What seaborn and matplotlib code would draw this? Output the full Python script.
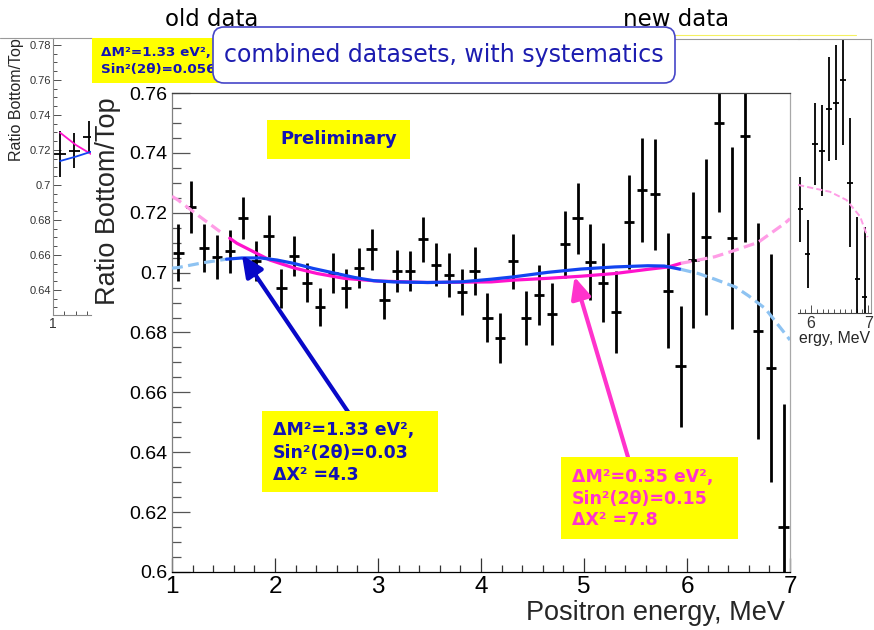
import matplotlib
matplotlib.use("Agg")
import numpy as np
import pandas as pd
import matplotlib.pyplot as plt
import seaborn as sns
from matplotlib.patches import Rectangle, FancyBboxPatch
from matplotlib.lines import Line2D
from matplotlib.transforms import Bbox, IdentityTransform
from matplotlib.ticker import FixedLocator, MultipleLocator

# ---------------- data ----------------
energy = [1.0625, 1.1875, 1.3125, 1.4375, 1.5625, 1.6875, 1.8125, 1.9375,
          2.0625, 2.1875, 2.3125, 2.4375, 2.5625, 2.6875, 2.8125, 2.9375,
          3.0625, 3.1875, 3.3125, 3.4375, 3.5625, 3.6875, 3.8125, 3.9375,
          4.0625, 4.1875, 4.3125, 4.4375, 4.5625, 4.6875, 4.8125, 4.9375,
          5.0625, 5.1875, 5.3125, 5.4375, 5.5625, 5.6875, 5.8125, 5.9375,
          6.0625, 6.1875, 6.3125, 6.4375, 6.5625, 6.6875, 6.8125, 6.9375]
ratio = [0.7066, 0.7219, 0.7083, 0.7053, 0.7072, 0.7183, 0.7038, 0.7122,
         0.6948, 0.7056, 0.6967, 0.6886, 0.6999, 0.6947, 0.7014, 0.7078,
         0.6908, 0.7006, 0.7006, 0.7112, 0.7027, 0.6992, 0.6936, 0.7006,
         0.6849, 0.6782, 0.7038, 0.6849, 0.6925, 0.6863, 0.7094, 0.7181,
         0.7034, 0.6966, 0.6867, 0.7170, 0.7276, 0.7261, 0.6939, 0.6688,
         0.7042, 0.7120, 0.7499, 0.7116, 0.7458, 0.6805, 0.6682, 0.6150]
ratio_err = [0.0095, 0.0088, 0.0080, 0.0074, 0.0072, 0.0071, 0.0067, 0.0069,
             0.0065, 0.0067, 0.0064, 0.0064, 0.0066, 0.0066, 0.0067, 0.0069,
             0.0063, 0.0070, 0.0066, 0.0075, 0.0073, 0.0075, 0.0077, 0.0080,
             0.0082, 0.0084, 0.0092, 0.0090, 0.0099, 0.0104, 0.0113, 0.0120,
             0.0127, 0.0132, 0.0137, 0.0157, 0.0174, 0.0185, 0.0192, 0.0202,
             0.0228, 0.0260, 0.0298, 0.0305, 0.0357, 0.0360, 0.0380, 0.0410]
bin_half = 0.05

# fit 1: dM2 = 1.33 eV2, sin2 = 0.03 (blue)
fit1_x = [1.00, 1.06, 1.30, 1.53, 1.68, 1.86, 2.02, 2.18, 2.37, 2.57, 2.77, 2.96,
          3.15, 3.48, 3.80, 4.10, 4.32, 4.65, 4.97, 5.30, 5.62, 5.78, 5.94,
          6.11, 6.27, 6.47, 6.60, 6.76, 6.95, 7.00]
fit1_y = [0.7015, 0.7017, 0.7033, 0.7045, 0.7049, 0.7049, 0.7042, 0.7031, 0.7014,
          0.6999, 0.6984, 0.6973, 0.6969, 0.6967, 0.6969, 0.6978, 0.6986, 0.7001,
          0.7012, 0.7019, 0.7023, 0.7022, 0.7011, 0.6997, 0.6978, 0.6952, 0.6922,
          0.6880, 0.6797, 0.6775]
# fit 2: dM2 = 0.35 eV2, sin2 = 0.15 (magenta)
fit2_x = [1.00, 1.06, 1.27, 1.47, 1.56, 1.63, 1.79, 1.95, 2.18, 2.41, 2.67, 2.99,
          3.48, 4.10, 4.32, 4.65, 4.97, 5.30, 5.62, 5.82, 5.94, 6.11, 6.27,
          6.47, 6.69, 6.95, 7.00]
fit2_y = [0.7255, 0.7242, 0.7187, 0.7136, 0.7115, 0.7098, 0.7070, 0.7042, 0.7016,
          0.6997, 0.6981, 0.6972, 0.6967, 0.6969, 0.6975, 0.6981, 0.6988, 0.6997,
          0.7011, 0.7019, 0.7031, 0.7042, 0.7053, 0.7075, 0.7101, 0.7165, 0.7180]
fit_solid_range = (1.53, 5.94)

# old data inset
old_x = [1.125, 1.375, 1.625]
old_y = [0.7177, 0.7196, 0.7276]
old_err = [0.0129, 0.0100, 0.0090]
old_fit1_x = [1.125, 1.40, 1.667]
old_fit1_y = [0.7137, 0.7162, 0.7190]
old_fit2_x = [1.125, 1.40, 1.667]
old_fit2_y = [0.7299, 0.7229, 0.7177]

# new data inset
new_x = [5.8125, 5.9375, 6.0625, 6.1875, 6.3125, 6.4375, 6.5625, 6.6875, 6.8125, 6.9375]
new_y = [0.6867, 0.6610, 0.7240, 0.7200, 0.7440, 0.7476, 0.7606, 0.7019, 0.6467, 0.6367]
new_err = [0.0186, 0.0195, 0.0235, 0.0260, 0.0296, 0.0327, 0.0370, 0.0367, 0.0358, 0.0400]
new_fit_x = [5.77, 6.04, 6.33, 6.62, 6.86, 6.99]
new_fit_y = [0.7006, 0.6987, 0.6967, 0.6920, 0.6825, 0.6707]

main_yticks = [0.60, 0.62, 0.64, 0.66, 0.68, 0.70, 0.72, 0.74, 0.76]
main_yticklabels = ["0.6", "0.62", "0.64", "0.66", "0.68", "0.7", "0.72", "0.74", "0.76"]
main_xticks = [1, 2, 3, 4, 5, 6, 7]
inset_yticks = [0.64, 0.66, 0.68, 0.70, 0.72, 0.74, 0.76, 0.78]
inset_yticklabels = ["0.64", "0.66", "0.68", "0.7", "0.72", "0.74", "0.76", "0.78"]

# ---------------- styling ----------------
W, H = 874, 630
sns.set_theme(style="white")
plt.rcParams['font.family'] = ['Liberation Sans', 'DejaVu Sans']
plt.rcParams['axes.linewidth'] = 0.9

BLUE = '#1244f0'
LBLUE = '#8ec3f2'
MAG = '#ff12cc'
PINK = '#ff9de6'
DBLUE = '#1212b4'
YEL = '#ffff00'

fig = plt.figure(figsize=(W / 100, H / 100), dpi=100)
fig.patch.set_facecolor('white')


def rect(x0, y0, x1, y1):
    return [x0 / W, 1 - y1 / H, (x1 - x0) / W, (y1 - y0) / H]


def fpos(px, py):
    return px / W, 1 - py / H


def pxrect(x0, y0, x1, y1, **kw):
    r = Rectangle((x0, H - y1), x1 - x0, y1 - y0, transform=IdentityTransform(), **kw)
    fig.add_artist(r)
    return r


def draw_fit(ax, xs, ys, solid_color, dash_color, lw, lo, hi):
    df = pd.DataFrame({'x': xs, 'y': ys})
    left = df[df.x <= lo]
    mid = df[(df.x >= lo) & (df.x <= hi)]
    right = df[df.x >= hi]
    dash = (0, (3.4, 1.7))
    if len(left) > 1:
        sns.lineplot(data=left, x='x', y='y', ax=ax, color=dash_color, lw=lw,
                     linestyle=dash, zorder=3)
    if len(mid) > 1:
        sns.lineplot(data=mid, x='x', y='y', ax=ax, color=solid_color, lw=lw, zorder=3)
    if len(right) > 1:
        sns.lineplot(data=right, x='x', y='y', ax=ax, color=dash_color, lw=lw,
                     linestyle=dash, zorder=3)


# ---------------- left inset (old data) ----------------
axL = fig.add_axes(rect(53, 38, 91, 315))
axL.set_xlim(1.0, 1.667)
axL.set_ylim(0.6257, 0.784)
axL.errorbar(old_x, old_y, yerr=old_err, xerr=0.1, fmt='none', ecolor='black',
             elinewidth=1.3, capsize=0, zorder=2)
sns.lineplot(x=old_fit2_x, y=old_fit2_y, ax=axL, color=MAG, lw=1.3, zorder=3)
sns.lineplot(x=old_fit1_x, y=old_fit1_y, ax=axL, color=BLUE, lw=1.3, zorder=3)
for s in ['top', 'right']:
    axL.spines[s].set_visible(False)
for s in ['left', 'bottom']:
    axL.spines[s].set_color('#8a8a8a')
    axL.spines[s].set_linewidth(0.8)
axL.yaxis.set_major_locator(FixedLocator(inset_yticks))
axL.set_yticklabels(inset_yticklabels)
axL.yaxis.set_minor_locator(MultipleLocator(0.005))
axL.xaxis.set_major_locator(FixedLocator([1.0]))
axL.set_xticklabels(["1"])
axL.xaxis.set_minor_locator(MultipleLocator(0.2))
axL.tick_params(axis='both', which='both', direction='in', left=True, bottom=True,
                colors='#333333', width=0.6)
axL.tick_params(axis='y', which='major', length=6, labelsize=8, pad=1.5)
axL.tick_params(axis='y', which='minor', length=3)
axL.tick_params(axis='x', which='major', length=6, labelsize=10, pad=1.5)
axL.tick_params(axis='x', which='minor', length=3)
axL.set_xlabel('')
axL.set_ylabel('')
fig.text(*fpos(17, 38), "Ratio Bottom/Top", rotation=90, ha='center', va='top', fontsize=11.5)

# ---------------- right inset (new data) ----------------
axR = fig.add_axes(rect(798, 39, 871, 313))
axR.set_xlim(5.77, 7.05)
axR.set_ylim(0.6274, 0.784)
axR.errorbar(new_x, new_y, yerr=new_err, xerr=0.05, fmt='none', ecolor='black',
             elinewidth=1.3, capsize=0, zorder=2)
sns.lineplot(x=new_fit_x, y=new_fit_y, ax=axR, color=PINK, lw=1.4,
             linestyle=(0, (3.2, 1.6)), zorder=3)
axR.spines['left'].set_visible(False)
for s in ['top', 'right', 'bottom']:
    axR.spines[s].set_color('#9a9a9a')
    axR.spines[s].set_linewidth(0.8)
axR.spines['bottom'].set_color('#444444')
axR.set_yticks([])
axR.xaxis.set_major_locator(FixedLocator([6, 7]))
axR.set_xticklabels(["6", "7"])
axR.xaxis.set_minor_locator(MultipleLocator(0.1))
axR.tick_params(axis='x', which='both', direction='in', bottom=True, colors='#333333', width=0.6)
axR.tick_params(axis='x', which='major', length=6, labelsize=11.5, pad=2)
axR.tick_params(axis='x', which='minor', length=3)
axR.set_xlabel('')
axR.set_ylabel('')
fig.text(*fpos(870, 343), "ergy, MeV", ha='right', va='baseline', fontsize=11.4)

# ---------------- main axes ----------------
ax = fig.add_axes(rect(172, 93, 790, 572))
ax.set_facecolor('white')
ax.set_xlim(1, 7)
ax.set_ylim(0.6, 0.76)
ax.errorbar(energy, ratio, yerr=ratio_err, xerr=bin_half, fmt='none', ecolor='black',
            elinewidth=2.0, capsize=0, zorder=2)
draw_fit(ax, fit2_x, fit2_y, MAG, PINK, 2.3, *fit_solid_range)
draw_fit(ax, fit1_x, fit1_y, BLUE, LBLUE, 2.3, *fit_solid_range)
ax.set_xlabel('')
ax.set_ylabel('')

ax.spines['left'].set_color('#808080')
ax.spines['bottom'].set_color('#000000')
ax.spines['top'].set_color('#404040')
ax.spines['right'].set_color('#a8a8a8')
ax.yaxis.set_major_locator(FixedLocator(main_yticks))
ax.set_yticklabels(main_yticklabels)
ax.yaxis.set_minor_locator(MultipleLocator(0.005))
ax.xaxis.set_major_locator(FixedLocator(main_xticks))
ax.set_xticklabels([str(v) for v in main_xticks])
ax.xaxis.set_minor_locator(MultipleLocator(0.2))
ax.tick_params(axis='both', which='both', direction='in', left=True, bottom=True,
               top=False, right=False)
ax.tick_params(axis='y', which='major', length=13, width=0.9, colors='#555555',
               labelcolor='black', labelsize=14, pad=3.5)
ax.tick_params(axis='y', which='minor', length=6.5, width=0.9, colors='#555555')
ax.tick_params(axis='x', which='major', length=10, width=0.9, colors='#333333',
               labelcolor='black', labelsize=17.5, pad=3)
ax.tick_params(axis='x', which='minor', length=5, width=0.9, colors='#333333')

fig.text(*fpos(108, 97), "Ratio Bottom/Top", rotation=90, ha='center', va='top', fontsize=19.5)
fig.text(*fpos(785, 620), "Positron energy, MeV", ha='right', va='baseline', fontsize=19.5)

# arrows
ax.annotate('', xy=(1.679, 0.7059), xytext=(2.711, 0.6534),
            arrowprops=dict(arrowstyle='-|>,head_length=0.65,head_width=0.3',
                            color='#0808c8', lw=3.0, mutation_scale=20,
                            shrinkA=0, shrinkB=0), zorder=4)
ax.annotate('', xy=(4.908, 0.6986), xytext=(5.427, 0.6384),
            arrowprops=dict(arrowstyle='-|>,head_length=0.65,head_width=0.3',
                            color='#ff33cc', lw=3.0, mutation_scale=20,
                            shrinkA=0, shrinkB=0), zorder=4)

# ---------------- boxes and annotations ----------------
box_font = dict(family=['DejaVu Sans'], fontweight='bold')

pxrect(267, 120, 410, 159, facecolor=YEL, edgecolor='none', zorder=5)
fig.text(*fpos(338.5, 139.5), "Preliminary", ha='center', va='center', color=DBLUE,
         fontsize=13, zorder=6, **box_font)

pxrect(262, 411, 438, 492, facecolor=YEL, edgecolor='none', zorder=5)
for i, line in enumerate(["ΔM²=1.33 eV²,", "Sin²(2θ)=0.03", "ΔX² =4.3"]):
    fig.text(*fpos(273, 430 + 22.5 * i), line, ha='left', va='center', color=DBLUE,
             fontsize=12.5, zorder=6, **box_font)

pxrect(561, 457, 738, 539, facecolor=YEL, edgecolor='none', zorder=5)
for i, line in enumerate(["ΔM²=0.35 eV²,", "Sin²(2θ)=0.15", "ΔX² =7.8"]):
    fig.text(*fpos(572, 477 + 21.5 * i), line, ha='left', va='center', color='#ff33cc',
             fontsize=12.5, zorder=6, **box_font)

# partially hidden old-data label
pxrect(92, 38, 300, 83, facecolor=YEL, edgecolor='none', zorder=5)
clip = Bbox.from_extents(92, H - 83, 300, H - 38)
for i, line in enumerate(["ΔM²=1.33 eV²,", "Sin²(2θ)=0.056", "ΔX²=16.5"]):
    t = fig.text(*fpos(101, 52 + 18 * i), line, ha='left', va='center', color=DBLUE,
                 fontsize=9.7, zorder=6, **box_font)
    t.set_clip_box(clip)
    t.set_clip_on(True)

# frame fragments of the underlying panels
fig.add_artist(Line2D([0, 92], [H - 38, H - 38], transform=IdentityTransform(),
                      color='#9a9a9a', lw=0.8, zorder=1))
fig.add_artist(Line2D([666, 800], [H - 39, H - 39], transform=IdentityTransform(),
                      color='#9a9a9a', lw=0.8, zorder=1))
fig.add_artist(Line2D([660, 856], [H - 35, H - 35], transform=IdentityTransform(),
                      color='#f4f060', lw=0.8, zorder=1))

# title box
tb = FancyBboxPatch((213, H - 83), 462, 56, boxstyle='round,pad=0,rounding_size=11',
                    transform=IdentityTransform(), facecolor='white',
                    edgecolor='#4646c8', lw=1.2, zorder=7)
fig.add_artist(tb)
fig.text(*fpos(443.5, 55), "combined datasets, with systematics", ha='center', va='center',
         color='#1c1cb0', fontsize=17, family=['DejaVu Sans'], zorder=8)

fig.text(*fpos(212, 20), "old data", ha='center', va='center', fontsize=16.5,
         family=['DejaVu Sans'], color='black', zorder=6)
fig.text(*fpos(676, 20), "new data", ha='center', va='center', fontsize=16.5,
         family=['DejaVu Sans'], color='black', zorder=6)

fig.savefig("out.png", dpi=100, facecolor='white')
